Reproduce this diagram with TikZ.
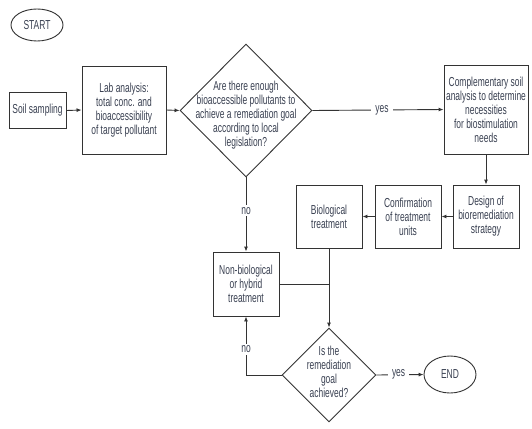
\documentclass[tikz,border=0pt]{standalone}
\usepackage{fontspec}
\setmainfont[FakeStretch=0.65]{Liberation Sans}
\usetikzlibrary{shapes.geometric,arrows.meta}
\definecolor{linec}{HTML}{333333}
\definecolor{txt}{HTML}{3A4152}
\begin{document}
\begin{tikzpicture}[x=1pt,y=-1pt,
  basefont/.style={font=\fontsize{13}{14}\selectfont, text=txt},
  box/.style={draw=linec, line width=0.9pt, align=center, inner sep=0pt, basefont},
  term/.style={draw=linec, line width=0.9pt, ellipse, inner sep=0pt, basefont},
  dia/.style={draw=linec, line width=0.9pt, diamond, inner sep=0pt},
  dtext/.style={align=center, inner sep=0pt, basefont},
  conn/.style={draw=linec, line width=0.9pt},
  arr/.style={conn, -{Latex[length=5pt,width=4pt]}},
  lbl/.style={fill=white, inner xsep=4pt, inner ysep=2pt, basefont}]
\useasboundingbox (0,0) rectangle (532,428);
\fill[white] (0,0) rectangle (532,428);

\node[term, minimum width=52pt, minimum height=32pt] (start) at (37,25) {START};
\node[box, minimum width=57pt, minimum height=36pt] (soil) at (37.5,110.5) {Soil sampling};
\node[box, minimum width=84pt, minimum height=88pt] (lab) at (124,110) {Lab analysis:\\total conc. and\\bioaccessibility\\of target pollutant};
\node[dia, minimum width=132pt, minimum height=133pt] (d1) at (246,110.5) {};
\node[dtext] (d1t) at (246,115) {Are there enough\\bioaccessible pollutants to\\achieve a remediation goal\\according to local\\legislation?};
\node[box, minimum width=84pt, minimum height=89pt] (comp) at (486,109.5) {Complementary soil\\analysis to determine\\necessities\\for biostimulation\\needs};
\node[box, minimum width=66pt, minimum height=63pt] (design) at (486,216.5) {Design of\\bioremediation\\strategy};
\node[box, minimum width=66pt, minimum height=63pt] (conf) at (408,216.5) {Confirmation\\of treatment\\units};
\node[box, minimum width=66pt, minimum height=63pt] (bio) at (329,216.5) {Biological\\treatment};
\node[box, minimum width=66pt, minimum height=64pt] (nonbio) at (246,284) {Non-biological\\or hybrid\\treatment};
\node[dia, minimum width=94pt, minimum height=94pt] (d2) at (329,375) {};
\node[dtext] (d2t) at (329,371.5) {Is the\\remediation\\goal\\achieved?};
\node[term, minimum width=52pt, minimum height=37pt] (end) at (450,374.5) {END};

\coordinate (j) at (bio.south |- nonbio.east);

\draw[arr] (soil.east) -- (lab.west);
\draw[arr] (lab.east) -- (d1.west);
\draw[arr] (d1.east) -- node[lbl, pos=0.53] (yes1) {yes} (comp.west);
\draw[arr] (comp.south) -- (design.north);
\draw[arr] (design.west) -- (conf.east);
\draw[arr] (conf.west) -- (bio.east);
\draw[arr] (d1.south) -- node[lbl, pos=0.45] (no1) {no} (nonbio.north);
\draw[arr] (bio.south) -- (d2.north);
\draw[conn] (nonbio.east) -- (j);
\draw[arr] (d2.west) -| node[lbl, pos=0.72] (no2) {no} (nonbio.south);
\draw[arr] (d2.east) -- node[lbl, pos=0.47] (yes2) {yes} (end.west);
\end{tikzpicture}
\end{document}
